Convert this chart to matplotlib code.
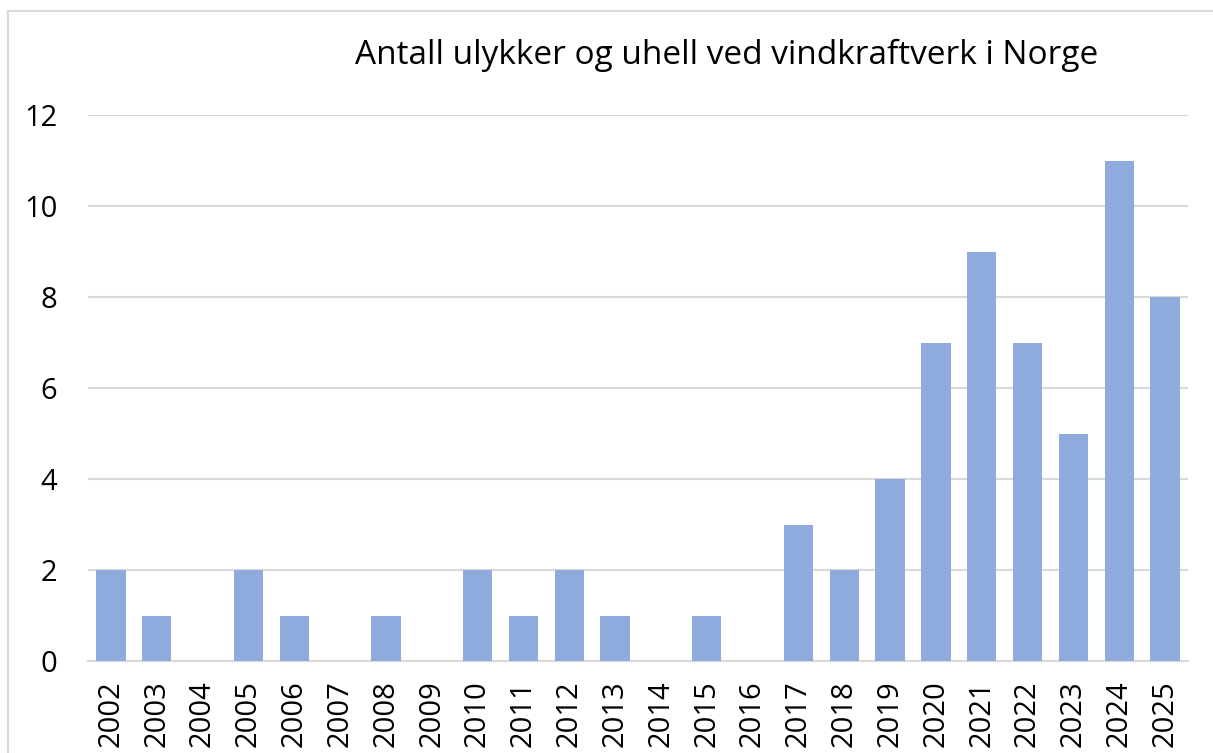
import matplotlib.pyplot as plt
from matplotlib.lines import Line2D

years = [str(y) for y in range(2002, 2026)]
counts = [2, 1, 0, 2, 1, 0, 1, 0, 2, 1, 2, 1, 0, 1, 0, 3, 2, 4, 7, 9, 7, 5, 11, 8]
yticks = [0, 2, 4, 6, 8, 10, 12]
title = 'Antall ulykker og uhell ved vindkraftverk i Norge'

plt.rcParams['font.family'] = ['Open Sans', 'DejaVu Sans']

W, H = 1213, 753
fig = plt.figure(figsize=(W / 100, H / 100), dpi=100)
ax = fig.add_axes([88 / W, 1 - 661 / H, (1188 - 88) / W, (661 - 115) / H])

x = range(len(years))
ax.bar(x, counts, width=0.64, color='#8FAADC', zorder=3)
ax.set_xlim(-0.5, len(years) - 0.5)
ax.set_ylim(0, 12)
ax.set_yticks(yticks)
ax.set_xticks(list(x))
ax.set_xticklabels(years, rotation=90)
ax.grid(axis='y', color='#D9D9D9', linewidth=1.5, zorder=0)
for s in ['top', 'right', 'left']:
    ax.spines[s].set_visible(False)
ax.spines['bottom'].set_color('#D9D9D9')
ax.spines['bottom'].set_linewidth(1.5)
ax.tick_params(axis='both', length=0, labelsize=21, colors='black')
ax.tick_params(axis='y', pad=22)
ax.tick_params(axis='x', pad=14)

fig.text(727 / W, 1 - 55 / H, title, ha='center', va='center', fontsize=24)

# outer chart frame (left and top edges visible)
fig.add_artist(Line2D([8 / W, 8 / W], [0, 1 - 11 / H], color='#D9D9D9', linewidth=1.5))
fig.add_artist(Line2D([8 / W, 1], [1 - 11 / H, 1 - 11 / H], color='#D9D9D9', linewidth=1.5))

fig.savefig('out.png', dpi=100)
